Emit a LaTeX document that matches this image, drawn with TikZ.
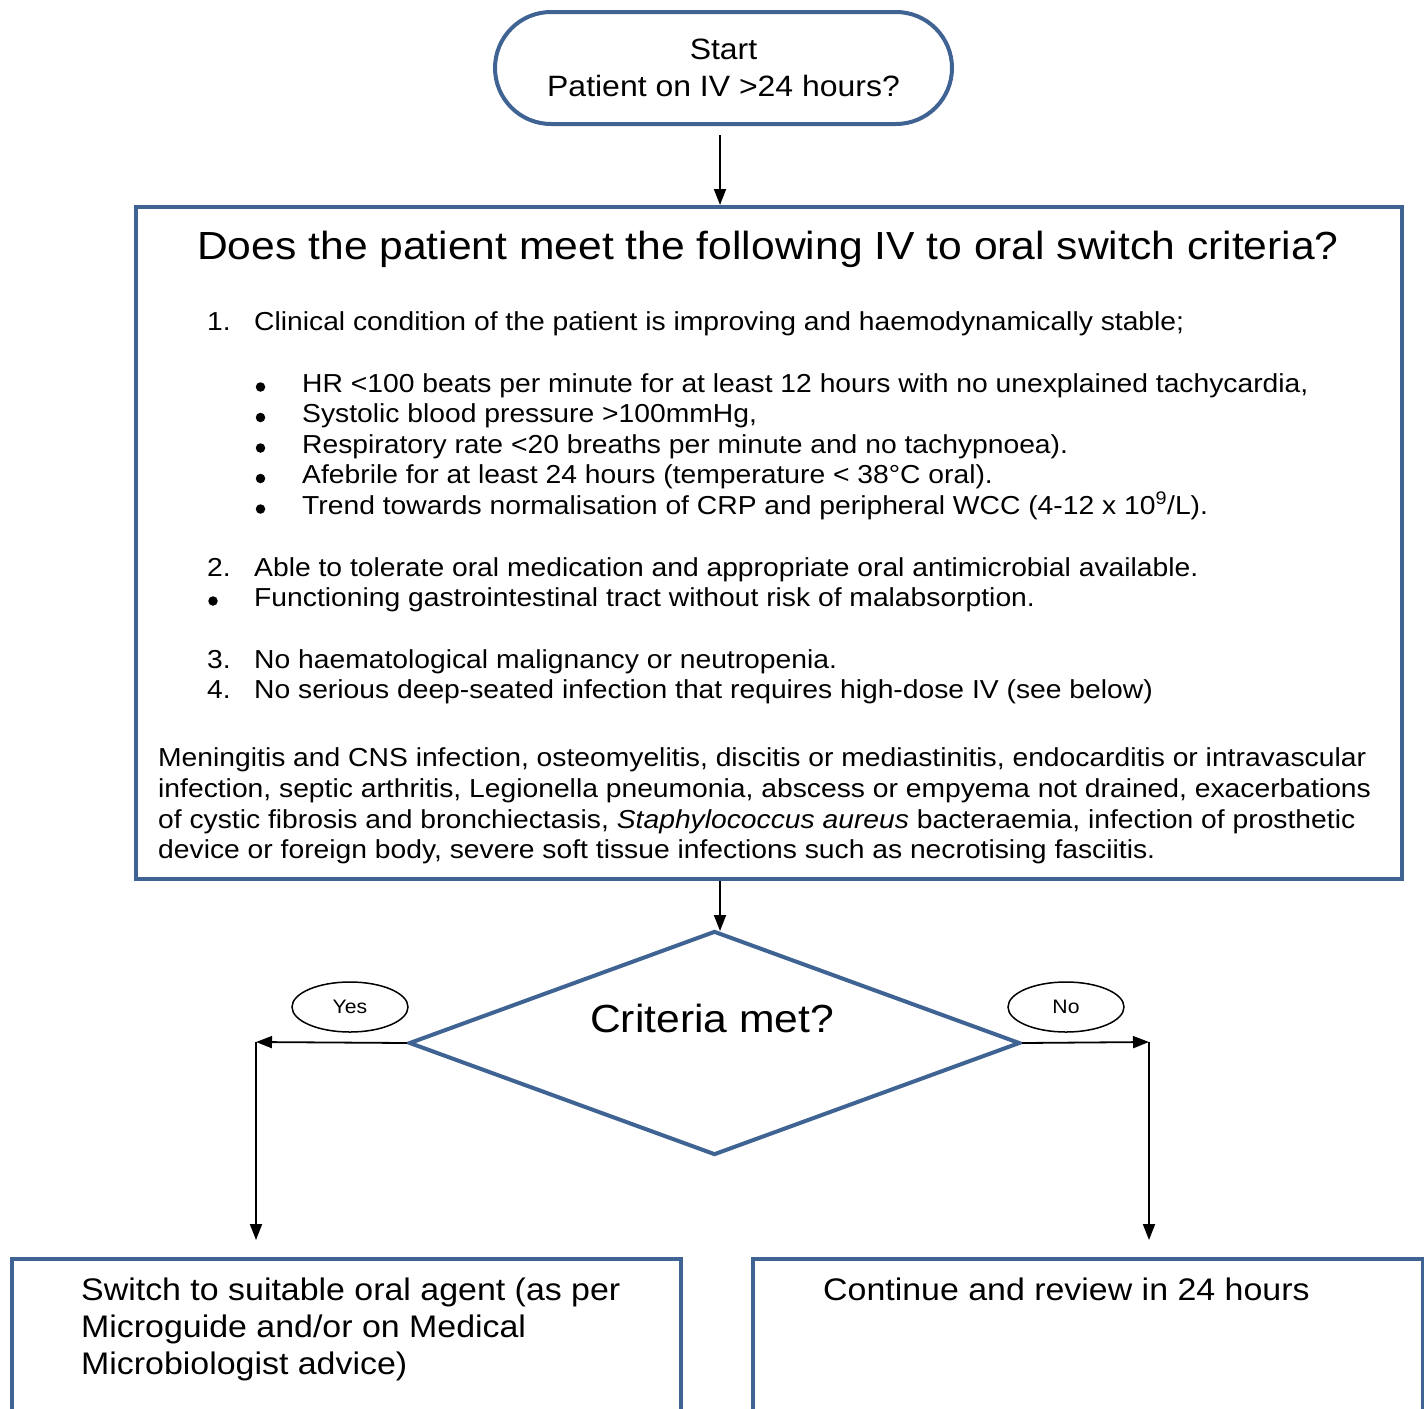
\documentclass[tikz,border=0pt]{standalone}
\usepackage{fontspec}
\setmainfont{Liberation Sans}[FakeStretch=1.087]
\usetikzlibrary{arrows.meta,shapes.geometric}
\definecolor{bord}{RGB}{63,99,147}
\begin{document}
\begin{tikzpicture}[x=1pt,y=-1pt,
  box/.style={draw=bord,line width=4pt,inner sep=0pt},
  arr/.style={draw=black,line width=1.8pt,-{Triangle[length=16pt,width=12pt]}},
  lblell/.style={ellipse,draw=black,line width=1.5pt,minimum width=116pt,minimum height=50pt,inner sep=0pt,font=\fontsize{19.5}{24}\selectfont},
  txt/.style={anchor=base west,inner sep=0pt,font=\fontsize{26}{30.7}\selectfont},
  bul/.style={circle,fill=black,inner sep=0pt,minimum size=9.5pt},
  bigtxt/.style={anchor=base,inner sep=0pt,font=\fontsize{39.2}{44}\selectfont},
  boxtxt/.style={anchor=base west,inner sep=0pt,font=\fontsize{31.2}{37}\selectfont}]
\useasboundingbox (0,0) rectangle (1424,1408);
\clip (0,0) rectangle (1424,1408);

% Start terminator
\node[box,minimum width=457pt,minimum height=112pt,rounded corners=56pt,align=center,
      font=\fontsize{29.4}{37}\selectfont] (start) at (723.5,68) {Start\\Patient on IV >24 hours?};

% Main criteria box
\node[box,minimum width=1266pt,minimum height=672pt] (main) at (769,543) {};
\node[bigtxt] (title) at (768,259) {Does the patient meet the following IV to oral switch criteria?};

\node[txt] (n1) at (207,330) {1.};
\node[txt] (t1) at (254,330) {Clinical condition of the patient is improving and haemodynamically stable;};

\node[bul] (b1) at (260.5,387) {};
\node[txt] (s1) at (302,392) {HR <100 beats per minute for at least 12 hours with no unexplained tachycardia,};
\node[bul] (b2) at (260.5,417.5) {};
\node[txt] (s2) at (302,422.5) {Systolic blood pressure >100mmHg,};
\node[bul] (b3) at (260.5,448) {};
\node[txt] (s3) at (302,453) {Respiratory rate <20 breaths per minute and no tachypnoea).};
\node[bul] (b4) at (260.5,478.5) {};
\node[txt] (s4) at (302,483.5) {Afebrile for at least 24 hours (temperature < 38°C oral).};
\node[bul] (b5) at (260.5,509) {};
\node[txt] (s5) at (302,514) {Trend towards normalisation of CRP and peripheral WCC (4-12 x 10\textsuperscript{9}/L).};

\node[txt] (n2) at (207,576) {2.};
\node[txt] (t2) at (254,576) {Able to tolerate oral medication and appropriate oral antimicrobial available.};
\node[bul] (b6) at (213,601) {};
\node[txt] (t2b) at (254,606) {Functioning gastrointestinal tract without risk of malabsorption.};

\node[txt] (n3) at (207,668) {3.};
\node[txt] (t3) at (254,668) {No haematological malignancy or neutropenia.};
\node[txt] (n4) at (207,698.5) {4.};
\node[txt] (t4) at (254,698.5) {No serious deep-seated infection that requires high-dose IV (see below)};

\node[txt] (p1) at (158,766) {Meningitis and CNS infection, osteomyelitis, discitis or mediastinitis, endocarditis or intravascular};
\node[txt] (p2) at (158,797) {infection, septic arthritis, Legionella pneumonia, abscess or empyema not drained, exacerbations};
\node[txt] (p3) at (158,828) {of cystic fibrosis and bronchiectasis, \textit{Staphylococcus aureus} bacteraemia, infection of prosthetic};
\node[txt] (p4) at (158,858) {device or foreign body, severe soft tissue infections such as necrotising fasciitis.};

% Decision diamond
\node[box,diamond,minimum width=611pt,minimum height=224pt] (dia) at (714.5,1043) {};
\node[bigtxt] (crit) at (712,1032) {Criteria met?};

\node[lblell] (yes) at (350,1007) {Yes};
\node[lblell] (no) at (1066,1007) {No};

% Outcome boxes
\node[box,minimum width=669pt,minimum height=200pt,anchor=north west] (left) at (10,1257) {};
\node[box,minimum width=670pt,minimum height=200pt,anchor=north west] (right) at (751,1257) {};
\node[boxtxt] (l1) at (81,1300) {Switch to suitable oral agent (as per};
\node[boxtxt] (l2) at (81,1337) {Microguide and/or on Medical};
\node[boxtxt] (l3) at (81,1374) {Microbiologist advice)};
\node[boxtxt] (r1) at (823,1300) {Continue and review in 24 hours};

% Connectors
\coordinate (a1s) at (720,135);
\coordinate (a1e) at (720,205);
\coordinate (a2s) at (720,881);
\coordinate (a2e) at (720,931);
\coordinate (yc) at (256,1042);
\coordinate (ye) at (256,1240);
\coordinate (nc) at (1149,1042);
\coordinate (ne) at (1149,1240);
\draw[arr] (a1s) -- (a1e);
\draw[arr] (a2s) -- (a2e);
\draw[arr] (dia.west) -- (yc);
\draw[arr] (yc) -- (ye);
\draw[arr] (dia.east) -- (nc);
\draw[arr] (nc) -- (ne);
\end{tikzpicture}
\end{document}
